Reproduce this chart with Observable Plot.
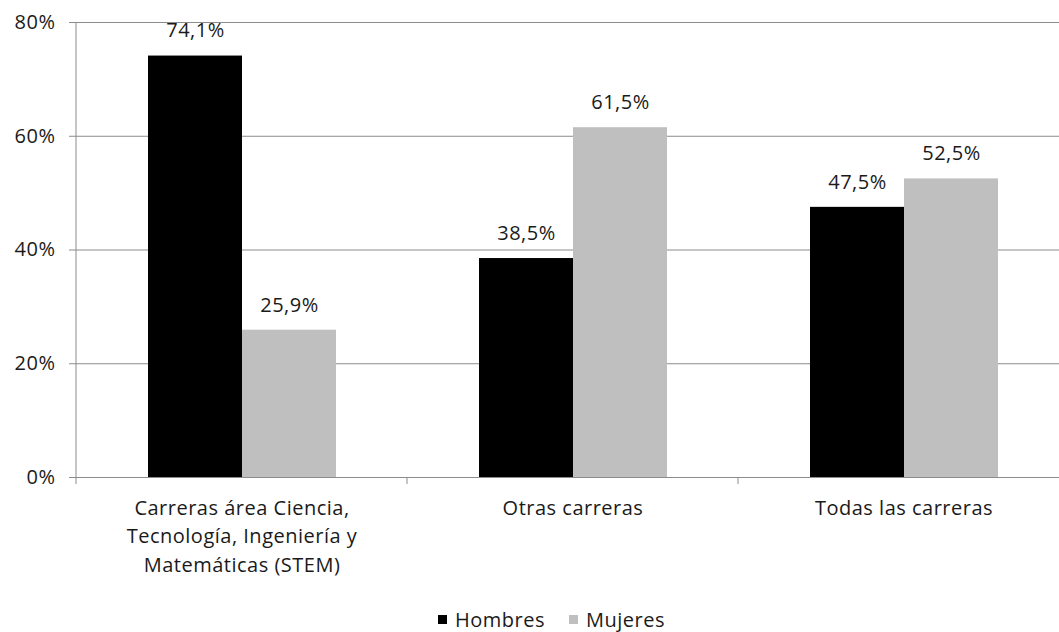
<!DOCTYPE html>
<html>
<head>
<meta charset="utf-8">
<script src="https://cdn.jsdelivr.net/npm/d3@7"></script>
<script src="https://cdn.jsdelivr.net/npm/@observablehq/plot@0.6"></script>
<style>
  html, body { margin: 0; padding: 0; background: #fff; overflow: hidden; }
  #chart svg { font-family: "Open Sans", sans-serif; letter-spacing: 0.5px; color: #1a1a1a; }
  #legend { display: flex; justify-content: center; align-items: center; height: 42px; padding-left: 44px;
    font-family: "Open Sans", sans-serif; font-size: 20px; letter-spacing: 0.5px; color: #1a1a1a; }
  #legend .sw { width: 9px; height: 9px; display: inline-block; margin-right: 8px; }
  #legend .item { display: flex; align-items: center; margin: 0 12px; }
</style>
</head>
<body>
<div id="chart"></div>
<div id="legend"></div>
<script>
const categories = [
  "Carreras área Ciencia,\nTecnología, Ingeniería y\nMatemáticas (STEM)",
  "Otras carreras",
  "Todas las carreras"
];
const series = ["Hombres", "Mujeres"];
const hombres = [74.1, 38.5, 47.5];
const mujeres = [25.9, 61.5, 52.5];
const colors = ["#000000", "#bfbfbf"];
const yTicks = [0, 20, 40, 60, 80];

const data = [];
categories.forEach((c, i) => {
  data.push({cat: c, sex: series[0], v: hombres[i]});
  data.push({cat: c, sex: series[1], v: mujeres[i]});
});
const fmt = v => v.toFixed(1).replace(".", ",") + "%";
const gridColor = "#8c8c8c";

const chart = Plot.plot({
  width: 1059,
  height: 598,
  marginTop: 22,
  marginBottom: 121,
  marginLeft: 75,
  marginRight: -11,
  fx: {domain: categories, padding: 0, label: null},
  x: {domain: series, paddingInner: 0, paddingOuter: 0.76, axis: null},
  y: {domain: [0, 80], label: null},
  color: {domain: series, range: colors},
  marks: [
    Plot.gridY(yTicks, {stroke: gridColor, strokeOpacity: 1}),
    Plot.axisY(yTicks, {tickFormat: d => d + "%", tickSize: 7, tickPadding: 14, stroke: gridColor, fontSize: 20, label: null}),
    Plot.axisFx({anchor: "bottom", tickSize: 0, tickPadding: 17, fontSize: 20, lineHeight: 1.43, label: null}),
    Plot.barY(data, {fx: "cat", x: "sex", y: "v", fill: "sex"}),
    Plot.text(data, {fx: "cat", x: "sex", y: "v", text: d => fmt(d.v), dy: -25, fontSize: 20})
  ]
});

// axis line and category boundary ticks, placed with the chart's own scales
const fxS = chart.scale("fx");
const yS = chart.scale("y");
const edges = categories.map(c => fxS.apply(c));
edges.push(fxS.apply(categories[categories.length - 1]) + fxS.bandwidth);
const g = d3.select(chart).append("g").attr("stroke", gridColor);
g.append("line").attr("x1", edges[0]).attr("x2", edges[0])
  .attr("y1", yS.apply(80)).attr("y2", yS.apply(0) + 7);
edges.slice(1).forEach(x => {
  g.append("line").attr("x1", x).attr("x2", x).attr("y1", yS.apply(0)).attr("y2", yS.apply(0) + 7);
});

document.getElementById("chart").append(chart);

const legend = document.getElementById("legend");
series.forEach((s, i) => {
  const item = document.createElement("span");
  item.className = "item";
  const sw = document.createElement("span");
  sw.className = "sw";
  sw.style.background = colors[i];
  item.append(sw, document.createTextNode(s));
  legend.append(item);
});
</script>
</body>
</html>
